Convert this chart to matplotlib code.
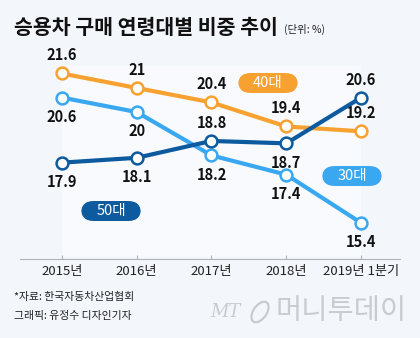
import matplotlib.pyplot as plt
import matplotlib.patches as patches

plt.rcParams['font.family'] = ['Noto Sans CJK KR', 'DejaVu Sans']

years = ['2015년', '2016년', '2017년', '2018년', '2019년 1분기']
age40 = [21.6, 21, 20.4, 19.4, 19.2]
age30 = [20.6, 20, 18.2, 17.4, 15.4]
age50 = [17.9, 18.1, 18.8, 18.7, 20.6]

c40 = '#f7a230'
c30 = '#3aa8f0'
c50 = '#0d5a9e'
bg = '#f3f6fb'

fig = plt.figure(figsize=(4.2, 3.38), dpi=100, facecolor=bg)
ax = fig.add_axes([20 / 420, 1 - 259 / 338, 380 / 420, 219 / 338])
ax.set_facecolor('none')
x = list(range(len(years)))
ax.set_xlim(-0.56, 4.52)
ax.set_ylim(13.9, 22.99)

# lighter panel behind the data
ax.axvspan(0, 4, ymin=0.01, ymax=0.88, color='#f8fafd', zorder=0, lw=0)

series = [(age40, c40, ['a', 'a', 'a', 'a', 'a']),
          (age30, c30, ['b', 'b', 'b', 'b', 'b']),
          (age50, c50, ['b', 'b', 'a', 'b', 'a'])]
for vals, col, pos in series:
    ax.plot(x, vals, color=col, lw=3, marker='o', ms=8.5, mfc='white',
            mec=col, mew=1.8, solid_capstyle='round', zorder=3)
    for xi, v, p in zip(x, vals, pos):
        off = 13 if p == 'a' else -14
        ax.annotate(f'{v:g}', (xi, v), xytext=(0, off), textcoords='offset points',
                    ha='center', va='center', fontsize=10.5, fontweight='bold',
                    color='#111111')

# series tags
for label, col, (px, py) in [('40대', c40, (268, 83)), ('30대', c30, (352, 176)),
                             ('50대', c50, (111, 211))]:
    fx, fy = px / 420, 1 - py / 338
    box = patches.FancyBboxPatch((fx - 30 / 420, fy - 10 / 338), 60 / 420, 20 / 338,
                                 boxstyle='round,pad=0,rounding_size=0.03',
                                 transform=fig.transFigure, facecolor=col,
                                 edgecolor='none', mutation_aspect=420 / 338)
    fig.patches.append(box)
    fig.text(fx, fy, label, ha='center', va='center', color='white', fontsize=10.5)

for s in ['top', 'right', 'left']:
    ax.spines[s].set_visible(False)
ax.spines['bottom'].set_color('#b0b4ba')
ax.spines['bottom'].set_linewidth(0.8)
ax.set_yticks([])
ax.set_xticks(x)
ax.set_xticklabels(years, fontsize=9.5, color='#222222')
ax.tick_params(axis='x', direction='in', length=3, color='#b0b4ba', pad=4)

fig.text(14 / 420, 1 - 27 / 338, '승용차 구매 연령대별 비중 추이', fontsize=14.8,
         fontweight='bold', va='center', color='#111111')
fig.text(284 / 420, 1 - 29 / 338, '(단위: %)', fontsize=7.5, va='center', color='#222222')

fig.text(14 / 420, 1 - 297 / 338, '*자료: 한국자동차산업협회', fontsize=7.8, va='center',
         color='#222222')
fig.text(14 / 420, 1 - 316 / 338, '그래픽: 유정수 디자인기자', fontsize=7.8, va='center',
         color='#222222')

# publisher mark
logo = '#c8ccd1'
fig.text(210 / 420, 1 - 312 / 338, 'MT', fontsize=13, style='italic', va='center',
         color=logo, family='DejaVu Serif')
fig.patches.append(patches.Ellipse((260 / 420, 1 - 312 / 338), 14 / 420, 22 / 338,
                                   angle=-25, transform=fig.transFigure, fill=False,
                                   edgecolor=logo, lw=1.6))
fig.text(276 / 420, 1 - 311 / 338, '머니투데이', fontsize=20.5, fontweight='light',
         va='center', color=logo)

fig.savefig('out.png', dpi=100, facecolor=bg)
